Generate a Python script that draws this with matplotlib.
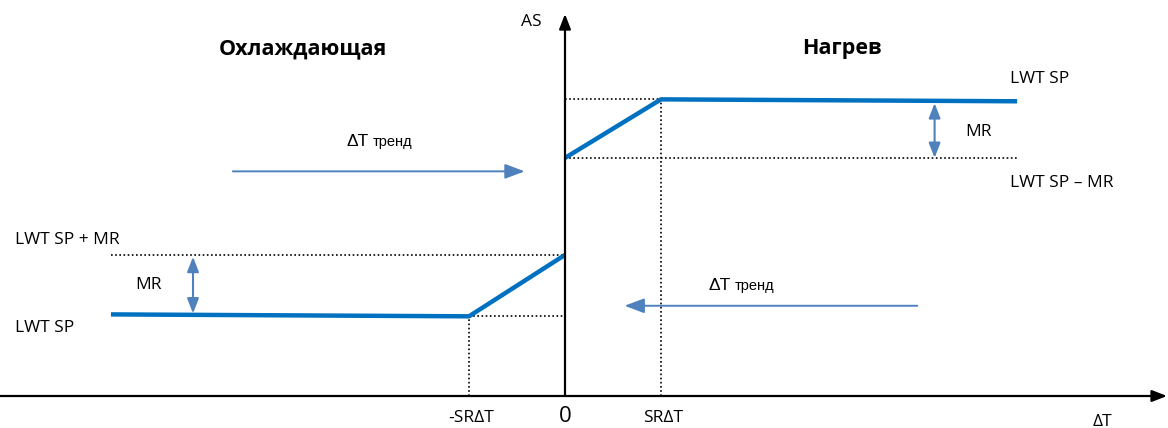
import matplotlib
matplotlib.use("Agg")
import matplotlib.pyplot as plt

# ---- data (units: ΔT in SRΔT units, AS in arbitrary units) ----
SR = 1.0
heat_x = [0.0, 1.0, 4.71]          # heating curve ΔT points
heat_y = [2.48, 3.09, 3.07]        # heating curve AS values
cool_x = [-4.73, -1.0, 0.0]        # cooling curve ΔT points
cool_y = [0.85, 0.83, 1.47]        # cooling curve AS values
heat_low = 2.48                    # LWT SP – MR level (heating)
cool_high = 1.47                   # LWT SP + MR level (cooling)
xtick_pos = [-1.0, 0.0, 1.0]
xtick_labels = ["-SR\u0394T", "0", "SR\u0394T"]

BLUE = "#0070C0"
ARROW = "#4F81BD"

fig = plt.figure(figsize=(11.68, 4.28), dpi=100)
ax = fig.add_axes([0, 0, 1, 1])
ax.set_xlim(-565 / 96, 603 / 96)
ax.set_ylim(-32 / 96, 396 / 96)
ax.axis("off")

FONT = ["Open Sans", "DejaVu Sans"]
NARROW = ["Liberation Sans Narrow", "Liberation Sans", "DejaVu Sans"]

# axes with arrowheads
ax.annotate("", xy=(603 / 96 - 0.01, 0), xytext=(-565 / 96, 0),
            arrowprops=dict(arrowstyle="-|>,head_length=0.9,head_width=0.35",
                            color="black", lw=1.6, shrinkA=0, shrinkB=0))
ax.annotate("", xy=(0, 382 / 96), xytext=(0, 0),
            arrowprops=dict(arrowstyle="-|>,head_length=0.9,head_width=0.35",
                            color="black", lw=1.6, shrinkA=0, shrinkB=0))

dot = dict(color="black", lw=1.2, ls=(0, (1, 1.5)))
# heating guides
ax.plot([0, heat_x[1]], [heat_y[1], heat_y[1]], **dot)
ax.plot([heat_x[1], heat_x[1]], [0, heat_y[1]], **dot)
ax.plot([0, heat_x[2]], [heat_low, heat_low], **dot)
# cooling guides
ax.plot([cool_x[0], 0], [cool_high, cool_high], **dot)
ax.plot([cool_x[1], 0], [cool_y[1], cool_y[1]], **dot)
ax.plot([cool_x[1], cool_x[1]], [0, cool_y[1]], **dot)

# curves
ax.plot(heat_x, heat_y, color=BLUE, lw=3.2, solid_capstyle="butt", solid_joinstyle="round")
ax.plot(cool_x, cool_y, color=BLUE, lw=3.2, solid_capstyle="butt", solid_joinstyle="round")

# MR double arrows
dbl = dict(arrowstyle="<|-|>,head_length=0.9,head_width=0.35", color=ARROW, lw=1.5,
           shrinkA=0, shrinkB=0)
ax.annotate("", xy=(3.85, heat_y[2] - 0.02), xytext=(3.85, heat_low), arrowprops=dbl)
ax.annotate("", xy=(-3.875, cool_high - 0.02), xytext=(-3.875, cool_y[0] + 0.01), arrowprops=dbl)

# trend arrows
tr = dict(arrowstyle="-|>,head_length=1.2,head_width=0.45", color=ARROW, lw=1.4,
          shrinkA=0, shrinkB=0)
ax.annotate("", xy=(-0.42, 2.34), xytext=(-3.46, 2.34), arrowprops=tr)
ax.annotate("", xy=(0.62, 0.94), xytext=(3.67, 0.94), arrowprops=tr)
for cx, cy in [(-1.98, 2.60), (1.79, 1.10)]:
    ax.text(cx - 0.06, cy, "\u0394T", family=NARROW, fontsize=12.5, ha="right", va="baseline")
    ax.text(cx - 0.02, cy, "тренд", family=NARROW, fontsize=10.5, ha="left", va="baseline")

# titles
ax.text(-2.73, 3.62, "Охлаждающая", family=FONT, fontsize=15.5, fontweight="bold",
        ha="center", va="center")
ax.text(2.88, 3.62, "Нагрев", family=FONT, fontsize=15.5, fontweight="bold",
        ha="center", va="center")

# labels
lab = dict(family=FONT, fontsize=12.5, va="center")
ax.text(-0.24, 3.9, "AS", ha="right", **lab)
ax.text(4.64, 3.3, "LWT SP", ha="left", **lab)
ax.text(4.17, 2.75, "MR", ha="left", **lab)
ax.text(4.64, 2.22, "LWT SP \u2013 MR", ha="left", **lab)
ax.text(-5.73, 1.63, "LWT SP + MR", ha="left", **lab)
ax.text(-4.48, 1.16, "MR", ha="left", **lab)
ax.text(-5.73, 0.71, "LWT SP", ha="left", **lab)
ax.text(5.6, -0.27, "\u0394T", ha="center", **lab)

for xp, tl in zip(xtick_pos, xtick_labels):
    if tl == "0":
        ax.text(xp, -0.21, tl, family=FONT, fontsize=16, ha="center", va="center")
    else:
        ax.text(xp + 0.02, -0.23, tl, family=FONT, fontsize=12.5, ha="center", va="center")

fig.savefig("out.png", dpi=100)
